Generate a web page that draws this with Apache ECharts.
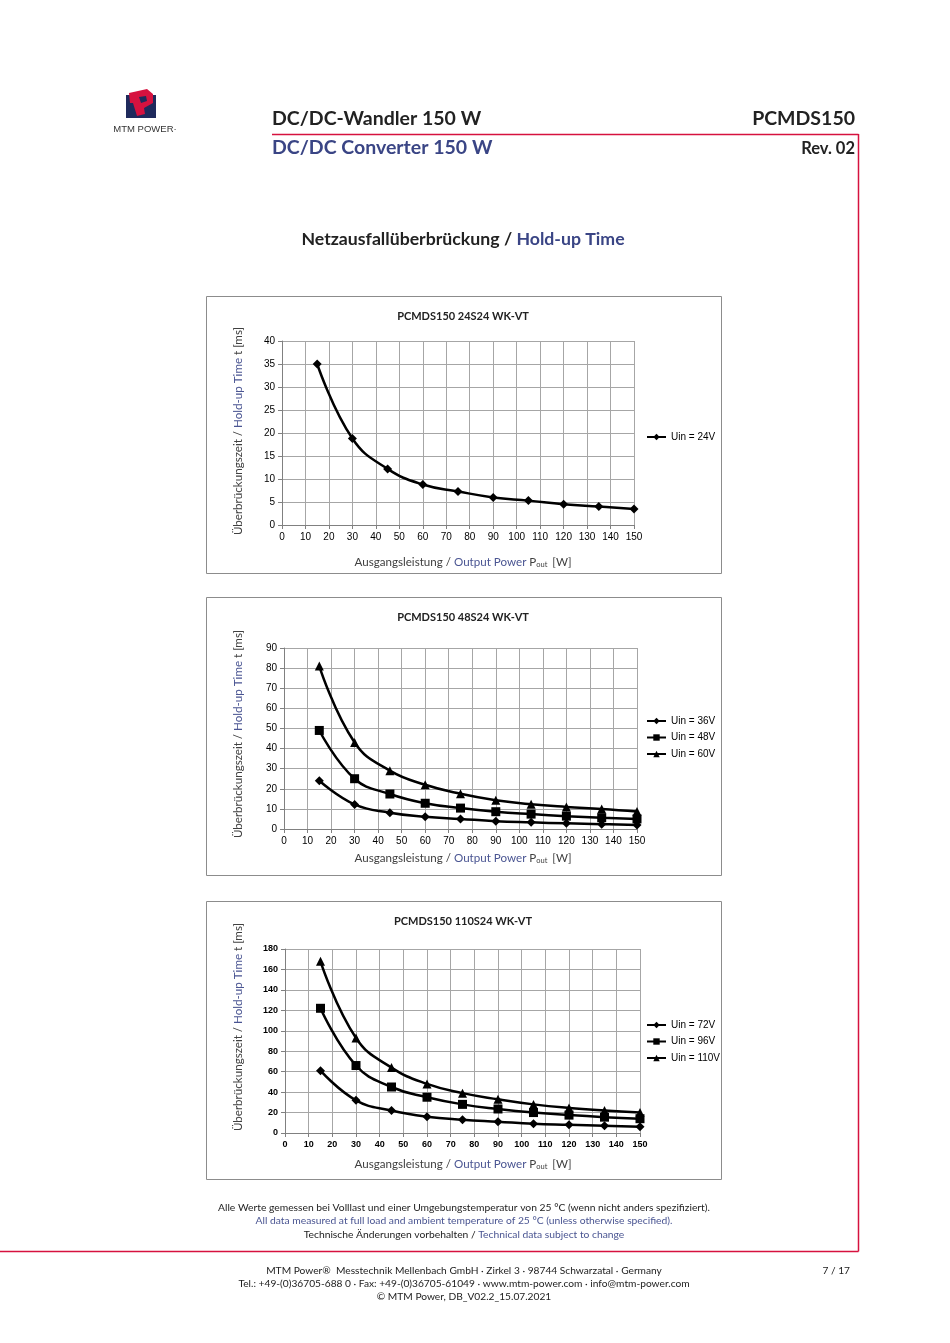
<!DOCTYPE html>
<html><head><meta charset="utf-8">
<script src="https://cdn.jsdelivr.net/npm/echarts@6/dist/echarts.min.js"></script>
<style>html,body{margin:0;padding:0;background:#fff}#c{width:950px;height:1343px}</style>
</head><body><div id="c"></div>
<script>
// ---- data ----
const xPower = [15, 30, 45, 60, 75, 90, 105, 120, 135, 150];
const names1 = ['Uin = 24V'];
const uin24 = [35, 18.8, 12.2, 8.8, 7.3, 6.0, 5.3, 4.5, 4.0, 3.5];
const names2 = ['Uin = 36V', 'Uin = 48V', 'Uin = 60V'];
const uin36 = [24, 12.2, 8.1, 6.1, 5.0, 3.9, 3.3, 2.8, 2.4, 2.0];
const uin48 = [49, 25, 17.4, 12.8, 10.4, 8.6, 7.4, 6.4, 5.6, 5.0];
const uin60 = [81, 43, 29, 22, 17.5, 14.3, 12.3, 11.0, 10.0, 8.7];
const names3 = ['Uin = 72V', 'Uin = 96V', 'Uin = 110V'];
const uin72 = [61, 32, 22, 16, 13, 11, 9, 8, 7, 6];
const uin96 = [122, 66, 45, 35, 28, 23.5, 20, 17.5, 15.5, 14];
const uin110 = [168, 93, 64, 48, 39, 33, 28, 24.5, 22, 20];
const titles = ['PCMDS150 24S24 WK-VT', 'PCMDS150 48S24 WK-VT', 'PCMDS150 110S24 WK-VT'];
const yMax = [40, 90, 180];
const yStep = [5, 10, 20];

const GREY = '#404040', BLUE = '#4a5592', RED = '#d6123f', NAVY = '#1f2a5c';
const FONT = 'Lato';
const grids = [
  {left: 282, top: 341, width: 352, height: 184},
  {left: 284, top: 648, width: 353, height: 181},
  {left: 285, top: 949, width: 355, height: 184}
];
const boxes = [[206, 296, 515, 277], [206, 597, 515, 278], [206, 901, 515, 278]];
const legendPos = [[641, 427], [641, 711], [641, 1015]];

const chart = echarts.init(document.getElementById('c'), null, {renderer: 'canvas'});

const xAxes = [], yAxes = [], series = [], legends = [];
grids.forEach((g, i) => {
  const lblFont = i === 2 ? {fontSize: 9, fontWeight: 'bold'} : {fontSize: 10};
  xAxes.push({
    type: 'value', gridIndex: i, min: 0, max: 150, interval: 10,
    axisLine: {show: true, onZero: false, lineStyle: {color: '#808080', width: 1}},
    axisTick: {show: true, length: 4, lineStyle: {color: '#808080'}},
    splitLine: {show: true, lineStyle: {color: '#a6a6a6', width: 1}},
    axisLabel: Object.assign({color: '#000', fontFamily: 'Liberation Sans', margin: 7}, lblFont)
  });
  yAxes.push({
    type: 'value', gridIndex: i, min: 0, max: yMax[i], interval: yStep[i],
    axisLine: {show: true, lineStyle: {color: '#808080', width: 1}},
    axisTick: {show: true, length: 4, lineStyle: {color: '#808080'}},
    splitLine: {show: true, lineStyle: {color: '#a6a6a6', width: 1}},
    axisLabel: Object.assign({color: '#000', fontFamily: 'Liberation Sans', margin: 7}, lblFont)
  });
});

function addSeries(name, vals, gi, sym, size) {
  series.push({
    name: name, type: 'line', xAxisIndex: gi, yAxisIndex: gi,
    data: xPower.map((x, k) => [x, vals[k]]),
    smooth: 0.45, symbol: sym, symbolSize: size, showSymbol: true,
    lineStyle: {color: '#000', width: 2.5}, itemStyle: {color: '#000'},
    animation: false, z: 5
  });
}
addSeries(names1[0], uin24, 0, 'diamond', 9);
addSeries(names2[0], uin36, 1, 'diamond', 9);
addSeries(names2[1], uin48, 1, 'rect', 9);
addSeries(names2[2], uin60, 1, 'triangle', 9);
addSeries(names3[0], uin72, 2, 'diamond', 9);
addSeries(names3[1], uin96, 2, 'rect', 9);
addSeries(names3[2], uin110, 2, 'triangle', 9);

[names1, names2, names3].forEach((nm, i) => {
  legends.push({
    data: nm, orient: 'vertical', left: legendPos[i][0], top: legendPos[i][1],
    itemWidth: 19, itemHeight: 8, itemGap: 6.5, selectedMode: false,
    textStyle: {fontFamily: 'Liberation Sans', fontSize: 10, color: '#000'}
  });
});

const graphic = [];
// page frame red lines
graphic.push({type: 'line', shape: {x1: 272, y1: 134.5, x2: 858.5, y2: 134.5}, style: {stroke: RED, lineWidth: 1.5}});
graphic.push({type: 'line', shape: {x1: 858.5, y1: 134, x2: 858.5, y2: 1251.5}, style: {stroke: RED, lineWidth: 1.5}});
graphic.push({type: 'line', shape: {x1: 0, y1: 1251.5, x2: 858.5, y2: 1251.5}, style: {stroke: RED, lineWidth: 1.5}});
// logo
graphic.push({type: 'rect', shape: {x: 126, y: 95, width: 30, height: 23}, style: {fill: NAVY}});
graphic.push({type: 'polygon', shape: {points: [[129, 93], [147, 89], [153, 94], [153, 103], [144, 108], [145, 114], [137, 116], [133, 103], [130, 103]]}, style: {fill: RED}});
graphic.push({type: 'polygon', shape: {points: [[139, 97], [146, 96], [147, 101], [141, 103]]}, style: {fill: NAVY}});
graphic.push({type: 'text', x: 145, y: 129, style: {text: 'MTM POWER\u00b7', font: '9.5px "Liberation Sans"', fill: '#333', align: 'center', verticalAlign: 'middle'}});
// header texts
const hf = 'bold 19.5px "' + FONT + '"';
graphic.push({type: 'text', left: 272, top: 109, style: {text: 'DC/DC-Wandler 150 W', font: hf, fill: '#222'}});
graphic.push({type: 'text', left: 272, top: 138, style: {text: 'DC/DC Converter 150 W', font: hf, fill: '#3a4585'}});
graphic.push({type: 'text', right: 95, top: 109, style: {text: 'PCMDS150', font: hf, fill: '#222', align: 'right'}});
graphic.push({type: 'text', right: 95, top: 140, style: {text: 'Rev. 02', font: 'bold 16.5px "' + FONT + '"', fill: '#222', align: 'right'}});
// section title
graphic.push({type: 'text', x: 463, y: 239, style: {
  text: '{a|Netzausfallüberbrückung / }{b|Hold-up Time}', align: 'center', verticalAlign: 'middle',
  rich: {a: {font: 'bold 17.7px "' + FONT + '"', fill: '#222'}, b: {font: 'bold 17.7px "' + FONT + '"', fill: '#3a4585'}}
}});

const xTitleY = [555, 851, 1157];
const yTitleCY = [431, 734, 1027];
const af = '11.6px "' + FONT + '"';
boxes.forEach((b, i) => {
  graphic.push({type: 'rect', shape: {x: b[0] + 0.5, y: b[1] + 0.5, width: b[2], height: b[3]}, style: {fill: 'none', stroke: '#8c8c8c', lineWidth: 1}, z: -1});
  graphic.push({type: 'text', x: 463, y: b[1] + 20, style: {text: titles[i], font: 'bold 11px "' + FONT + '"', fill: '#222', align: 'center', verticalAlign: 'middle'}});
  graphic.push({type: 'text', x: 463, y: xTitleY[i], style: {
    text: '{a|Ausgangsleistung / }{b|Output Power }{a|P}{s|out}{a| [W]}',
    align: 'center', verticalAlign: 'top',
    rich: {
      a: {font: af, fill: GREY},
      b: {font: af, fill: BLUE},
      s: {font: '7.5px "' + FONT + '"', fill: GREY, padding: [6, 2, 0, 0]}
    }
  }});
  graphic.push({type: 'text', x: 238, y: yTitleCY[i], rotation: Math.PI / 2, style: {
    text: '{a|Überbrückungszeit / }{b|Hold-up Time}{a| t [ms]}',
    align: 'center', verticalAlign: 'middle',
    rich: {a: {font: af, fill: GREY}, b: {font: af, fill: BLUE}}
  }});
});
// notes
const nf = '10.3px "' + FONT + '"';
graphic.push({type: 'text', x: 464, y: 1208, style: {text: 'Alle Werte gemessen bei Volllast und einer Umgebungstemperatur von 25 °C (wenn nicht anders spezifiziert).', font: nf, fill: '#222', align: 'center', verticalAlign: 'middle'}});
graphic.push({type: 'text', x: 464, y: 1221, style: {text: 'All data measured at full load and ambient temperature of 25 °C (unless otherwise specified).', font: nf, fill: BLUE, align: 'center', verticalAlign: 'middle'}});
graphic.push({type: 'text', x: 464, y: 1235, style: {
  text: '{a|Technische Änderungen vorbehalten / }{b|Technical data subject to change}', align: 'center', verticalAlign: 'middle',
  rich: {a: {font: nf, fill: '#222'}, b: {font: nf, fill: BLUE}}
}});
// footer
const ff = '10.2px "' + FONT + '"';
graphic.push({type: 'text', x: 464, y: 1271, style: {text: 'MTM Power\u00ae  Messtechnik Mellenbach GmbH · Zirkel 3 · 98744 Schwarzatal · Germany', font: ff, fill: '#222', align: 'center', verticalAlign: 'middle'}});
graphic.push({type: 'text', x: 464, y: 1284, style: {text: 'Tel.: +49-(0)36705-688 0 · Fax: +49-(0)36705-61049 · www.mtm-power.com · info@mtm-power.com', font: ff, fill: '#222', align: 'center', verticalAlign: 'middle'}});
graphic.push({type: 'text', x: 464, y: 1297, style: {text: '© MTM Power, DB_V02.2_15.07.2021', font: ff, fill: '#222', align: 'center', verticalAlign: 'middle'}});
graphic.push({type: 'text', x: 850, y: 1271, style: {text: '7 / 17', font: ff, fill: '#222', align: 'right', verticalAlign: 'middle'}});

chart.setOption({
  backgroundColor: '#fff',
  animation: false,
  grid: grids.map(g => Object.assign({containLabel: false}, g)),
  xAxis: xAxes, yAxis: yAxes, series: series, legend: legends,
  graphic: graphic
});
</script>
</body></html>
